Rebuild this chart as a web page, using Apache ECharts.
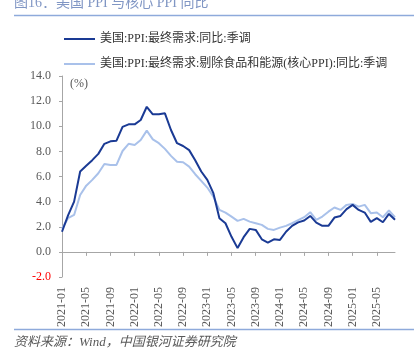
<!DOCTYPE html>
<html><head><meta charset="utf-8">
<script src="https://cdn.jsdelivr.net/npm/echarts@6/dist/echarts.min.js"></script>
<style>html,body{margin:0;padding:0;background:#fff}#c{width:416px;height:355px}</style>
</head><body><div id="c"></div>
<script>
// months 2021-01 .. 2025-08
const categories = [];
for (let y = 2021; y <= 2025; y++) for (let m = 1; m <= 12; m++) {
  if (y === 2025 && m > 8) break;
  categories.push(y + '-' + (m < 10 ? '0' + m : m));
}
const ppiName = '美国:PPI:最终需求:同比:季调';
const coreName = '美国:PPI:最终需求:剔除食品和能源(核心PPI):同比:季调';
const ppi = [1.6, 2.9, 4.0, 6.4, 6.85, 7.3, 7.8, 8.6, 8.8, 8.85, 9.95, 10.15,
  10.15, 10.5, 11.55, 10.95, 10.95, 11.03, 9.7, 8.65, 8.43, 8.1, 7.3, 6.4,
  5.73, 4.67, 2.68, 2.28, 1.2, 0.3, 1.17, 1.83, 1.75, 1.0, 0.74, 1.0,
  0.95, 1.6, 2.07, 2.35, 2.5, 2.86, 2.33, 2.07, 2.07, 2.73, 2.86, 3.4,
  3.74, 3.34, 3.13, 2.39, 2.68, 2.36, 3.02, 2.55];
const core = [1.85, 2.68, 2.94, 4.53, 5.27, 5.73, 6.26, 7.0, 6.92, 6.92, 8.03, 8.6,
  8.5, 8.9, 9.65, 8.96, 8.65, 8.2, 7.64, 7.18, 7.13, 6.79, 6.18, 5.65,
  5.12, 4.4, 3.34, 3.13, 2.81, 2.47, 2.63, 2.41, 2.28, 2.15, 1.83, 1.75,
  1.93, 2.07, 2.28, 2.52, 2.76, 3.16, 2.55, 2.81, 3.2, 3.53, 3.34, 3.74,
  3.82, 3.6, 3.74, 3.08, 3.13, 2.76, 3.29, 2.76];
const yTicks = { min: -2, max: 14, interval: 2 };

const serif = '"Liberation Serif","Noto Sans CJK SC",serif';
const chart = echarts.init(document.getElementById('c'));
chart.setOption({
  animation: false,
  backgroundColor: '#fff',
  grid: { left: 62, right: 21, top: 76, bottom: 78, containLabel: false },
  legend: {
    orient: 'vertical', left: 64, top: 32, padding: 0, itemWidth: 31, itemHeight: 2, itemGap: 11,
    icon: 'rect',
    textStyle: { fontFamily: serif, fontSize: 12, color: '#333', padding: [0, 0, 0, 0], height: 14, lineHeight: 14 },
    data: [
      { name: ppiName, itemStyle: { color: '#1a3a94' } },
      { name: coreName, itemStyle: { color: '#a9c1ea' } }
    ]
  },
  xAxis: [{
    type: 'category', data: categories, boundaryGap: false,
    axisLine: { onZero: true, lineStyle: { color: '#a6a6a6', width: 1 } },
    axisTick: { show: true, interval: 3, length: 4, inside: false, lineStyle: { color: '#a6a6a6' } },
    axisLabel: { show: false }
  }, {
    type: 'category', data: categories, boundaryGap: false, position: 'bottom',
    axisLine: { show: false, onZero: false }, axisTick: { show: false },
    axisLabel: { interval: 3, rotate: 90, margin: 10, fontFamily: serif, fontSize: 12, color: '#595959' }
  }],
  yAxis: {
    type: 'value', min: yTicks.min, max: yTicks.max, interval: yTicks.interval,
    splitLine: { show: false },
    axisLine: { show: true, lineStyle: { color: '#a6a6a6' } },
    axisTick: { show: true, length: 3, lineStyle: { color: '#a6a6a6' } },
    axisLabel: {
      margin: 11, fontFamily: serif, fontSize: 12,
      formatter: v => v.toFixed(1),
      color: v => (v < 0 ? '#ff0000' : '#595959')
    }
  },
  series: [
    { name: ppiName, type: 'line', data: ppi, xAxisIndex: 0, symbol: 'none', z: 3,
      lineStyle: { color: '#1a3a94', width: 2 }, itemStyle: { color: '#1a3a94' } },
    { name: coreName, type: 'line', data: core, xAxisIndex: 0, symbol: 'none', z: 2,
      lineStyle: { color: '#a9c1ea', width: 2 }, itemStyle: { color: '#a9c1ea' } }
  ],
  graphic: [
    { type: 'text', left: 14, top: -4, style: { text: '图16：美国 PPI 与核心 PPI 同比', fontFamily: serif, fontSize: 14, fill: '#8096c4' } },
    { type: 'line', shape: { x1: 14, y1: 15.5, x2: 414, y2: 15.5 }, style: { stroke: '#8eaadb', lineWidth: 1.5 } },
    { type: 'text', left: 70, top: 78, style: { text: '(%)', fontFamily: serif, fontSize: 12, fill: '#595959' } },
    { type: 'line', shape: { x1: 14, y1: 329.5, x2: 414, y2: 329.5 }, style: { stroke: '#8eaadb', lineWidth: 1.5 } },
    { type: 'text', left: 14, top: 336, style: { text: '资料来源：Wind，中国银河证券研究院', fontFamily: serif, fontSize: 13, fontStyle: 'italic', fill: '#595959' } }
  ]
});
</script></body></html>
